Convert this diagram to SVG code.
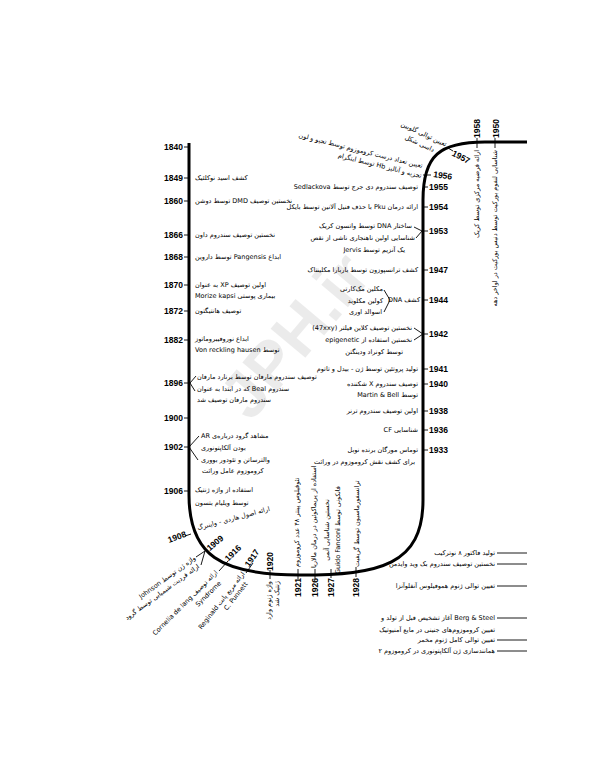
<svg xmlns="http://www.w3.org/2000/svg" width="593" height="768" viewBox="0 0 593 768">
<style>
.yr{font-family:'Liberation Sans',Arial,sans-serif;font-weight:bold;font-size:8.5px;fill:#000}
.fa{font-family:'DejaVu Sans','Noto Sans',sans-serif;font-size:6.5px;fill:#000}
.e{text-anchor:end}
.m{text-anchor:middle}
.main{fill:none;stroke:#000;stroke-width:3}
.tk{fill:none;stroke:#000;stroke-width:0.9}
.wm{font-family:'Liberation Sans',Arial,sans-serif;font-weight:bold;font-size:66px;fill:#000;fill-opacity:0.08;text-anchor:middle}
</style>
<rect width="593" height="768" fill="#fff"/>
<text class="wm" transform="translate(312,350) rotate(-50)">JPH.ir</text>

<g id="connectors">
<path class="main" d="M189,143 L189,495 C189,555 220,575 300,575 C380,575 423,565 423,500 L423,200 C423,155 440,142 485,142 L527,142"/>
<path class="tk" d="M184,147H189 M184,178H189 M184,201H189 M184,235H189 M184,257H189 M184,285H189 M184,311H189 M184,340H189 M184,383H189 M184,418H189 M184,447H189 M184,491H189
M423,187H428 M423,207H428 M423,231H428 M423,270H428 M423,300H428 M423,334H428 M423,369H428 M423,384H428 M423,411H428 M423,430H428 M423,450H428
M423,175H431 M448,148L453,151 M477,138V148 M495,138V148
M185,536L191,534 M219,571L228,561 M246,573L253,563 M270,570V579
M298,569V579 M315,569V579 M331,569V578 M356,567V577
M196,376L190,383L195,391 M199,436L189,447L198,460 M414,227L422,231L416,238 M384,290L390,300L384,312 M414,328L423,334L414,340 M196,557L205,551L201,565
M497,553H527 M497,564H527 M497,586H527 M497,618H527 M497,640H527 M497,651H527"/>
</g>

<g id="n1840"><text class="yr e" x="183" y="150">1840</text></g>
<g id="n1849"><text class="yr e" x="183" y="181">1849</text><text class="fa" x="195" y="180.3">&#x202B;کشف اسید نوکلئیک&#x202C;</text></g>
<g id="n1860"><text class="yr e" x="183" y="204">1860</text><text class="fa" x="195" y="203.3">&#x202B;نخستین توصیف DMD توسط دوشن&#x202C;</text></g>
<g id="n1866"><text class="yr e" x="183" y="238">1866</text><text class="fa" x="195" y="237.3">&#x202B;نخستین توصیف سندروم داون&#x202C;</text></g>
<g id="n1868"><text class="yr e" x="183" y="260">1868</text><text class="fa" x="195" y="259.3">&#x202B;ابداع Pangensis توسط داروین&#x202C;</text></g>
<g id="n1870"><text class="yr e" x="183" y="288">1870</text><text class="fa" x="195" y="286.5">&#x202B;اولین توصیف XP به عنوان&#x202C;</text><text class="fa" x="195" y="297.5">&#x202B;بیماری پوستی Morize kapsi&#x202C;</text></g>
<g id="n1872"><text class="yr e" x="183" y="314">1872</text><text class="fa" x="195" y="313.3">&#x202B;توصیف هانتیگتون&#x202C;</text></g>
<g id="n1882"><text class="yr e" x="183" y="343">1882</text><text class="fa" x="195" y="341.3">&#x202B;ابداع نوروفیبروماتوز&#x202C;</text><text class="fa" x="195" y="352.3">&#x202B;توسط Von reckling hausen&#x202C;</text></g>
<g id="n1896"><text class="yr e" x="183" y="386">1896</text><text class="fa" x="197" y="379.3">&#x202B;توصیف سندروم مارفان توسط برنارد مارفان&#x202C;</text><text class="fa" x="197" y="390.8">&#x202B;سندروم Beal که در ابتدا به عنوان&#x202C;</text><text class="fa" x="197" y="402.3">&#x202B;سندروم مارفان توصیف شد&#x202C;</text></g>
<g id="n1900"><text class="yr e" x="183" y="421">1900</text></g>
<g id="n1902"><text class="yr e" x="183" y="450">1902</text><text class="fa" x="201" y="438.3">&#x202B;مشاهد گرود درباره‌ی AR&#x202C;</text><text class="fa" x="201" y="450.3">&#x202B;بودن آلکاپتونوری&#x202C;</text><text class="fa" x="201" y="462.3">&#x202B;والترساتن و تئودور بووری&#x202C;</text><text class="fa" x="202" y="473.3">&#x202B;کروموزوم عامل وراثت&#x202C;</text></g>
<g id="n1906"><text class="yr e" x="183" y="494">1906</text><text class="fa" x="195" y="492.3">&#x202B;استفاده از واژه ژنتیک&#x202C;</text><text class="fa" x="195" y="505.3">&#x202B;توسط ویلیام بتسون&#x202C;</text></g>
<g id="n1908"><text class="yr m" transform="translate(177,537) rotate(-20)" y="2.9">1908</text><text class="fa" transform="translate(198,530) rotate(-15)">&#x202B;ارائه اصول هاردی - واینبرگ&#x202C;</text></g>
<g id="n1909"><text class="yr m" transform="translate(215,543) rotate(-40)" y="2.9">1909</text><g transform="translate(196,559) rotate(-36)"><text class="fa e">&#x202B;واژه ژن توسط Johnson&#x202C;</text><text class="fa e" x="-2" y="9">&#x202B;ارائه فردیت شیمیایی توسط گرود&#x202C;</text></g></g>
<g id="n1916"><text class="yr m" transform="translate(233,553) rotate(-45)" y="2.9">1916</text><g transform="translate(218,573) rotate(-45)"><text class="fa e">&#x202B;ارائه توصیف Cornelia de lang&#x202C;</text><text class="fa e" x="-5" y="10">Syndrome</text></g></g>
<g id="n1917"><text class="yr m" transform="translate(252,558) rotate(-55)" y="2.9">1917</text><g transform="translate(245,574) rotate(-52)"><text class="fa e">&#x202B;ارائه مربع پانت Reginald&#x202C;</text><text class="fa e" x="-6" y="8.5">C. Punnett</text></g></g>
<g id="n1920"><text class="yr" transform="translate(273,571) rotate(-90)">1920</text><g transform="translate(271,581) rotate(-90)"><text class="fa e">&#x202B;واژه ژنوم وارد&#x202C;</text><text class="fa e" y="8">&#x202B;ژنتیک شد&#x202C;</text></g></g>
<g id="n1921"><text class="yr" transform="translate(301,597) rotate(-90)">1921</text><text class="fa" transform="translate(299,567) rotate(-90)">&#x202B;تئوفیلوس پینتر ۴۸ عدد کروموزوم&#x202C;</text></g>
<g id="n1926"><text class="yr" transform="translate(318,597) rotate(-90)">1926</text><text class="fa" transform="translate(316,568) rotate(-90)">&#x202B;استفاده از پریماکوئین در درمان مالاریا&#x202C;</text></g>
<g id="n1927"><text class="yr" transform="translate(334,597) rotate(-90)">1927</text><g transform="translate(329,530) rotate(-90)"><text class="fa m">&#x202B;نخستین شناسایی آنمی&#x202C;</text><text class="fa m" y="11">&#x202B;فانکونی توسط Guido Fanconi&#x202C;</text></g></g>
<g id="n1928"><text class="yr" transform="translate(359,597) rotate(-90)">1928</text><text class="fa" transform="translate(359,567) rotate(-90)">&#x202B;ترانسفورماسیون توسط گریفیت&#x202C;</text></g>

<g id="n1933"><text class="yr" x="429" y="453">1933</text><text class="fa e" x="418" y="452.3">&#x202B;توماس مورگان برنده نوبل&#x202C;</text><text class="fa e" x="415" y="464.3">&#x202B;برای کشف نقش کروموزوم در وراثت&#x202C;</text></g>
<g id="n1936"><text class="yr" x="429" y="433">1936</text><text class="fa e" x="418" y="432.3">&#x202B;شناسایی CF&#x202C;</text></g>
<g id="n1938"><text class="yr" x="429" y="414">1938</text><text class="fa e" x="418" y="413.3">&#x202B;اولین توصیف سندروم ترنر&#x202C;</text></g>
<g id="n1940"><text class="yr" x="429" y="387">1940</text><text class="fa e" x="418" y="386.3">&#x202B;توصیف سندروم X شکننده&#x202C;</text><text class="fa e" x="418" y="397.3">&#x202B;توسط Martin &amp; Bell&#x202C;</text></g>
<g id="n1941"><text class="yr" x="429" y="372">1941</text><text class="fa e" x="418" y="371.3">&#x202B;تولید پروتئین توسط ژن - بیدل و تاتوم&#x202C;</text></g>
<g id="n1942"><text class="yr" x="429" y="337">1942</text><text class="fa e" x="412" y="330.3">&#x202B;نخستین توصیف کلاین فیلتر (47xxy)&#x202C;</text><text class="fa e" x="412" y="342.3">&#x202B;نخستین استفاده از epigenetic&#x202C;</text><text class="fa e" x="403" y="354.3">&#x202B;توسط کونراد ودینگتن&#x202C;</text></g>
<g id="n1944"><text class="yr" x="429" y="303">1944</text><text class="fa e" x="420" y="302.3">&#x202B;کشف DNA&#x202C;</text><text class="fa e" x="383" y="291.3">&#x202B;مکلین مک‌کارتی&#x202C;</text><text class="fa e" x="383" y="302.8">&#x202B;کولین مکلوید&#x202C;</text><text class="fa e" x="382" y="314.3">&#x202B;اسوالد اوری&#x202C;</text></g>
<g id="n1947"><text class="yr" x="429" y="273">1947</text><text class="fa e" x="418" y="272.3">&#x202B;کشف ترانسپوزون توسط باربارا مکلینتاک&#x202C;</text></g>
<g id="n1953"><text class="yr" x="429" y="234">1953</text><text class="fa e" x="412" y="228.3">&#x202B;ساختار DNA توسط واتسون کریک&#x202C;</text><text class="fa e" x="415" y="240.3">&#x202B;شناسایی اولین ناهنجاری ناشی از نقص&#x202C;</text><text class="fa e" x="405" y="252.3">&#x202B;یک آنزیم توسط Jervis&#x202C;</text></g>
<g id="n1954"><text class="yr" x="429" y="210">1954</text><text class="fa e" x="418" y="209.3">&#x202B;ارائه درمان Pku با حذف فنیل آلانین توسط بایکل&#x202C;</text></g>
<g id="n1955"><text class="yr" x="429" y="190">1955</text><text class="fa e" x="418" y="189.3">&#x202B;توصیف سندروم دی جرج توسط Sedlackova&#x202C;</text></g>
<g id="n1956"><text class="yr" transform="translate(433,177) rotate(8)">1956</text><text class="fa e" transform="translate(422,168) rotate(14)">&#x202B;تعیین تعداد درست کروموزوم توسط تجیو و لون&#x202C;</text><text class="fa e" transform="translate(421,178) rotate(14)">&#x202B;تجزیه و آنالیز Hb توسط اینگرام&#x202C;</text></g>
<g id="n1957"><text class="yr m" transform="translate(461,157) rotate(28)" y="2.9">1957</text><g transform="translate(424,134) rotate(25)"><text class="fa m" y="2.3">&#x202B;تعیین توالی گلوبین&#x202C;</text><text class="fa m" y="12.5">&#x202B;داسی شکل&#x202C;</text></g></g>
<g id="n1958"><text class="yr" transform="translate(480,138) rotate(-90)">1958</text><text class="fa e" transform="translate(479,150) rotate(-90)">&#x202B;ارائه فرضیه مرکزی توسط کریک&#x202C;</text></g>
<g id="n1950"><text class="yr" transform="translate(499,138) rotate(-90)">1950</text><text class="fa e" transform="translate(497,150) rotate(-90)">&#x202B;شناسایی لنفوم بورکیت توسط دنیس بورکیت در اواخر دهه&#x202C;</text></g>

<g id="later">
<text class="fa e" x="495" y="555.3">&#x202B;تولید فاکتور ۸ نوترکیب&#x202C;</text>
<text class="fa e" x="495" y="566.3">&#x202B;نخستین توصیف سندروم بک وید وایدمن&#x202C;</text>
<text class="fa e" x="495" y="588.3">&#x202B;تعیین توالی ژنوم هموفیلوس آنفلوآنزا&#x202C;</text>
<text class="fa e" x="495" y="620.3">&#x202B;Berg &amp; Steel آغاز تشخیص قبل از تولد و&#x202C;</text>
<text class="fa e" x="495" y="632.3">&#x202B;تعیین کروموزوم‌های جنینی در مایع آمنیوتیک&#x202C;</text>
<text class="fa e" x="495" y="642.3">&#x202B;تعیین توالی کامل ژنوم مخمر&#x202C;</text>
<text class="fa e" x="495" y="653.3">&#x202B;همانندسازی ژن آلکاپتونوری در کروموزوم ۲&#x202C;</text>
</g>
</svg>
